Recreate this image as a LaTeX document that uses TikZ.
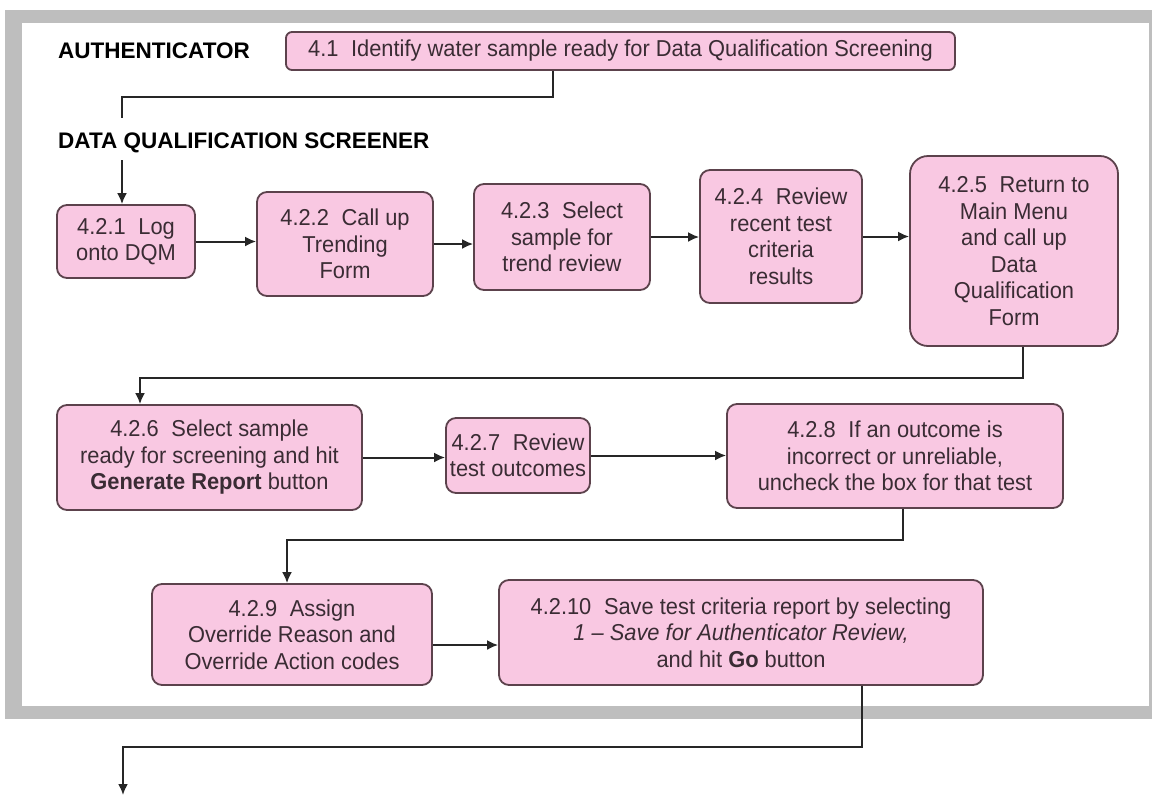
\documentclass[tikz,border=0pt]{standalone}
\usepackage{fontspec}
\setmainfont{Liberation Sans}[FakeStretch=0.95]
\newfontfamily\lblfont{Liberation Sans}
\usepackage{tikz}
\usetikzlibrary{arrows.meta}
\definecolor{BoxPink}{RGB}{249,200,226}
\definecolor{BoxEdge}{RGB}{92,66,76}
\definecolor{TextDark}{RGB}{58,44,52}
\definecolor{FrameGray}{RGB}{190,190,190}
\tikzset{
  stepbox/.style={draw=BoxEdge,fill=BoxPink,rounded corners=10pt,line width=1.8pt,
    align=center,inner sep=0pt,text=TextDark,font=\fontsize{23}{26.5}\selectfont},
  lanelbl/.style={anchor=west,inner sep=0pt,font=\lblfont\bfseries\fontsize{22.5}{26}\selectfont},
  link/.style={line width=2pt,black!85},
  flow/.style={link,-{Latex[length=11pt,width=10pt]}}
}
\newcommand{\gap}{\hspace{0.55em}}
\begin{document}
\begin{tikzpicture}[x=1pt,y=-1pt]
\useasboundingbox (0,0) rectangle (1152,796);
% outer frame
\fill[FrameGray] (5,10) rectangle (1160,719);
\fill[white] (22,23) rectangle (1150,706);
\draw[FrameGray,line width=1.5pt] (1150,23)--(1150,706);
% lane labels
\node[lanelbl] (auth) at (58,51) {AUTHENTICATOR};
\node[lanelbl] (dqs) at (58,143) {DATA QUALIFICATION SCREENER};
% steps
\node[stepbox,rounded corners=6pt,minimum width=669,minimum height=38] (b41) at (620.5,51)
  {4.1\gap Identify water sample ready for Data Qualification Screening};
\node[stepbox,minimum width=138,minimum height=73] (b421) at (126,241.5) {4.2.1\gap Log\\onto DQM};
\node[stepbox,minimum width=176,minimum height=104] (b422) at (345,244) {4.2.2\gap Call up\\Trending\\Form};
\node[stepbox,minimum width=176,minimum height=106] (b423) at (562,237) {4.2.3\gap Select\\sample for\\trend review};
\node[stepbox,minimum width=162,minimum height=133] (b424) at (781,236.5) {4.2.4\gap Review\\recent test\\criteria\\results};
\node[stepbox,rounded corners=18pt,minimum width=208,minimum height=190] (b425) at (1014,251)
  {4.2.5\gap Return to\\Main Menu\\and call up\\Data\\Qualification\\Form};
\node[stepbox,minimum width=305,minimum height=105] (b426) at (209.5,457.5)
  {4.2.6\gap Select sample\\ready for screening and hit\\\textbf{Generate Report} button};
\node[stepbox,minimum width=144,minimum height=75] (b427) at (518,455.5) {4.2.7\gap Review\\test outcomes};
\node[stepbox,minimum width=336,minimum height=104] (b428) at (895,456)
  {4.2.8\gap If an outcome is\\incorrect or unreliable,\\uncheck the box for that test};
\node[stepbox,minimum width=280,minimum height=101] (b429) at (292,634.5)
  {4.2.9\gap Assign\\Override Reason and\\Override Action codes};
\node[stepbox,minimum width=484,minimum height=105] (b4210) at (741,632.5)
  {4.2.10\gap Save test criteria report by selecting\\\textit{1 -- Save for Authenticator Review,}\\and hit \textbf{Go} button};
% joints
\coordinate (j1) at (553,97);
\coordinate (j2) at (122,97);
\coordinate (j3) at (122,118);
\coordinate (j4) at (122,160);
\coordinate (j5) at (1023,378);
\coordinate (j6) at (140,378);
\coordinate (j7) at (903,540);
\coordinate (j8) at (287,540);
\coordinate (j9) at (862,747);
\coordinate (j10) at (123,747);
\coordinate (j11) at (0,645);
\coordinate (out) at (123,795);
% connectors
\draw[link] (b41.south -| j1) -- (j1) -- (j2) -- (j3);
\draw[flow] (j4) -- (j4 |- b421.north);
\draw[flow] (b421.east) -- (b421.east -| b422.west);
\draw[flow] (b422.east) -- (b422.east -| b423.west);
\draw[flow] (b423.east) -- (b423.east -| b424.west);
\draw[flow] (b424.east) -- (b424.east -| b425.west);
\draw[flow] (b425.south -| j5) -- (j5) -- (j6) -- (j6 |- b426.north);
\draw[flow] (b426.east) -- (b426.east -| b427.west);
\draw[flow] (b427.east) -- (b427.east -| b428.west);
\draw[flow] (b428.south -| j7) -- (j7) -- (j8) -- (j8 |- b429.north);
\draw[flow] (b429.east |- j11) -- (b4210.west |- j11);
\draw[flow] (b4210.south -| j9) -- (j9) -- (j10) -- (out);
\end{tikzpicture}
\end{document}
